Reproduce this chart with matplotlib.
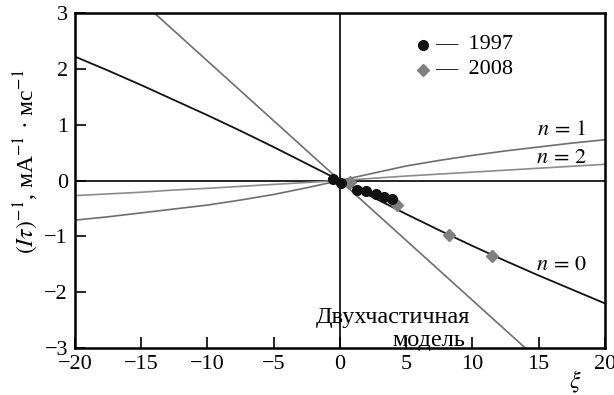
import matplotlib
matplotlib.use("Agg")
import matplotlib.pyplot as plt
import numpy as np

plt.rcParams['font.family'] = ['Liberation Serif', 'DejaVu Serif']
plt.rcParams['mathtext.fontset'] = 'stix'

# theoretical curves, sampled along xi
xi = [-20, -17.5, -15, -12.5, -10, -7.5, -5, -2.5, 0, 2.5, 5, 7.5, 10, 12.5, 15, 17.5, 20]
n0 = [2.22, 1.97, 1.71, 1.44, 1.17, 0.89, 0.60, 0.30, 0.0,
      -0.30, -0.60, -0.89, -1.17, -1.44, -1.70, -1.95, -2.20]
n1 = [-0.71, -0.65, -0.58, -0.51, -0.44, -0.35, -0.25, -0.13, 0.0,
      0.13, 0.26, 0.36, 0.45, 0.53, 0.60, 0.67, 0.73]
n2 = [-0.27, -0.24, -0.21, -0.17, -0.14, -0.105, -0.07, -0.035, 0.0,
      0.04, 0.08, 0.115, 0.15, 0.185, 0.22, 0.255, 0.29]

# two-particle model (straight line)
xi_two = [-14.0, 14.0]
y_two = [3.0, -3.0]

# measurements
xi_1997 = [-0.5, 0.1, 1.3, 2.0, 2.7, 3.3, 3.9]
y_1997 = [0.03, -0.04, -0.17, -0.19, -0.24, -0.30, -0.34]
xi_2008 = [0.75, 4.3, 8.25, 11.5]
y_2008 = [-0.03, -0.44, -0.97, -1.36]

fig = plt.figure(figsize=(6.14, 3.95), dpi=100)
ax = fig.add_axes([0.122, 0.119, 0.863, 0.848])

ax.axhline(0, color='black', lw=1.2, zorder=1)
ax.axvline(0, color='black', lw=1.2, zorder=1)

ax.plot(xi_two, y_two, color='#6e6e6e', lw=1.2, zorder=2)
ax.plot(xi, n2, color='#8c8c8c', lw=1.2, zorder=2)
ax.plot(xi, n1, color='#6e6e6e', lw=1.2, zorder=2)
ax.plot(xi, n0, color='#111111', lw=1.3, zorder=2)

ax.plot(xi_1997, y_1997, 'o', color='#111111', ms=7, ls='none', zorder=4)
ax.plot(xi_2008, y_2008, 'D', color='#808080', ms=6, ls='none', zorder=3)

ax.set_xlim(-20, 20)
ax.set_ylim(-3, 3)
ax.set_xticks([-20, -15, -10, -5, 0, 5, 10, 15, 20])
ax.set_yticks([-3, -2, -1, 0, 1, 2, 3])
ax.tick_params(direction='in', length=8, width=1.2, labelsize=16,
               top=False, right=False, pad=5)
for s in ax.spines.values():
    s.set_linewidth(1.8)

fig.text(0.042, 0.59, r'$(I\tau)^{-1}$, мА$^{-1}$ · мс$^{-1}$', fontsize=17,
         rotation=90, ha='center', va='center')
ax.text(17.8, -3.6, r'$\xi$', fontsize=17, ha='center', va='center')

# curve labels
ax.text(18.6, 0.9, r'$n\,=\,1$', fontsize=16, ha='right', va='center')
ax.text(18.6, 0.4, r'$n\,=\,2$', fontsize=16, ha='right', va='center')
ax.text(18.6, -1.53, r'$n\,=\,0$', fontsize=16, ha='right', va='center')
ax.text(-1.8, -2.45, 'Двухчастичная', fontsize=17.5, ha='left', va='center')
ax.text(4.0, -2.87, 'модель', fontsize=17.5, ha='left', va='center')

# legend drawn by hand
ax.plot([6.3], [2.43], 'o', color='#111111', ms=7)
ax.plot([6.3], [1.98], 'D', color='#808080', ms=6)
ax.text(7.2, 2.43, '—  1997', fontsize=16, ha='left', va='center')
ax.text(7.2, 1.98, '—  2008', fontsize=16, ha='left', va='center')

fig.savefig('out.png', dpi=100)
